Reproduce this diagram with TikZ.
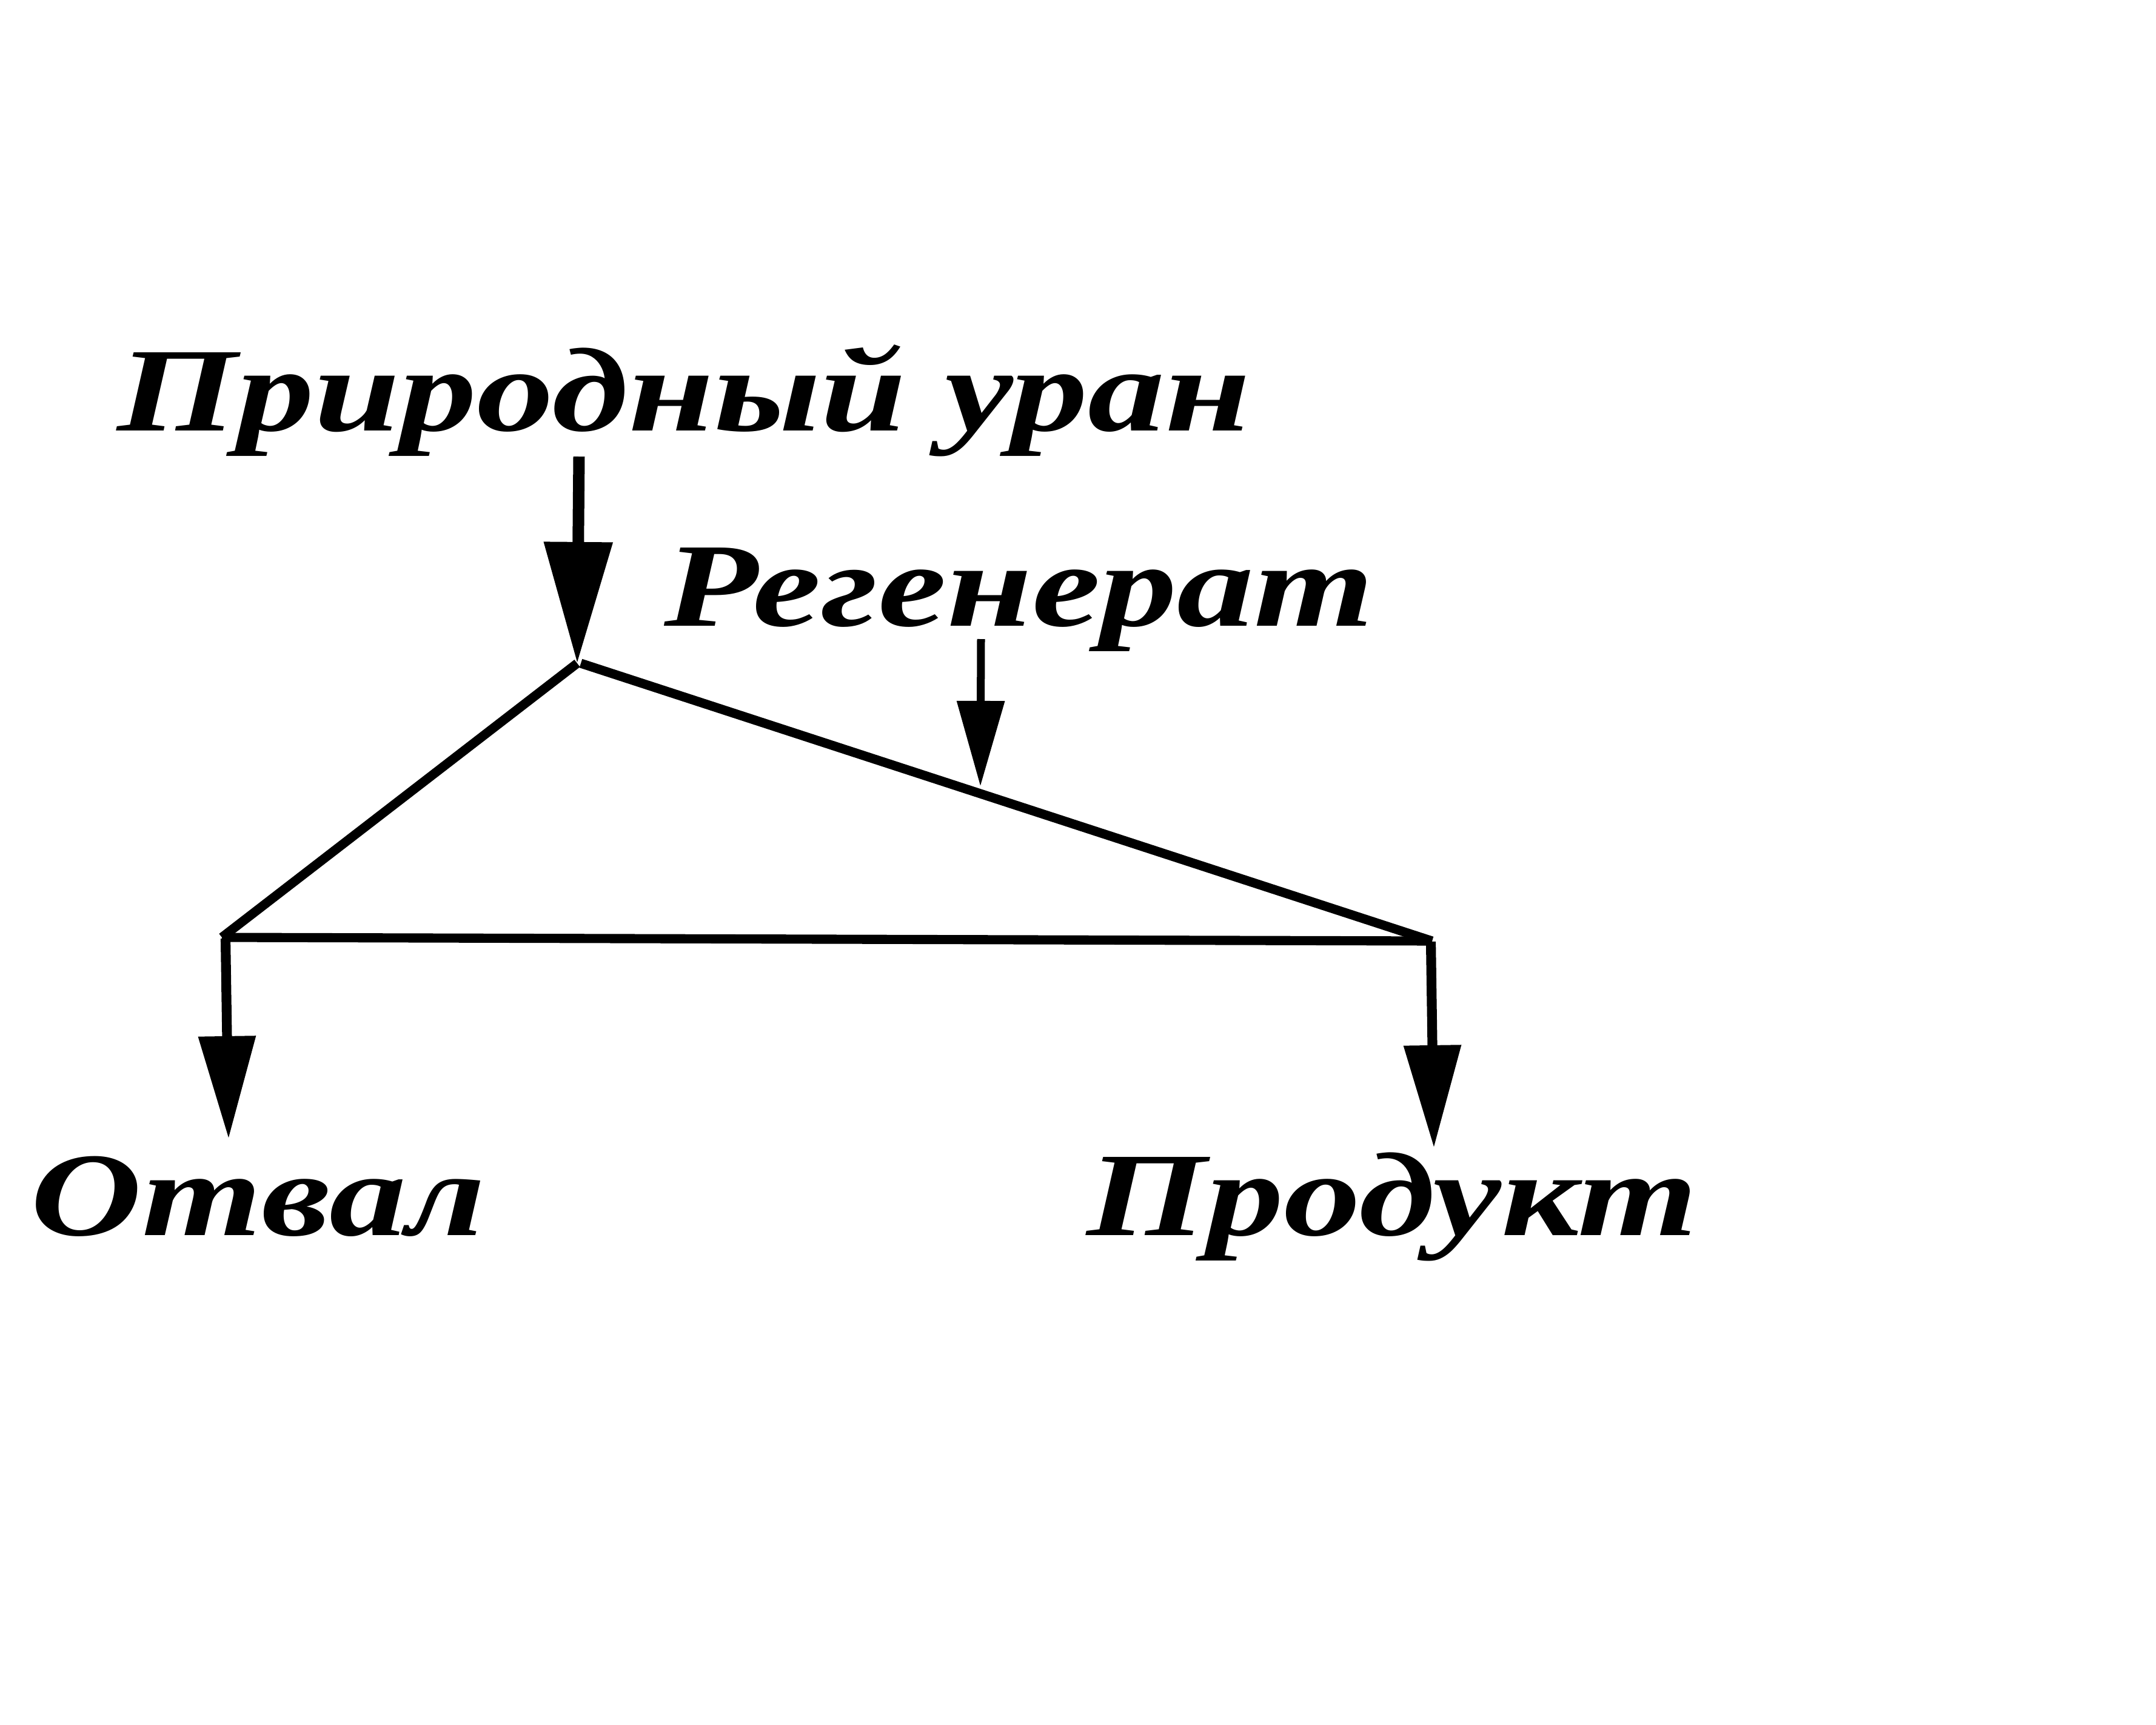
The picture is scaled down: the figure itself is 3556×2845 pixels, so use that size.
\documentclass[tikz,border=0pt]{standalone}
\usepackage{fontspec}
\setmainfont{Liberation Serif}[FakeStretch=1.29]
\usetikzlibrary{arrows.meta,calc,positioning}

\begin{document}
\begin{tikzpicture}[
  x=0.01cm, y=-0.01cm,
  lbl/.style={anchor=base west, inner sep=0pt, font=\fontsize{56}{60}\selectfont\bfseries\itshape},
  edge/.style={line width=4.3pt, line cap=butt},
  feed/.style={line width=5.4pt, -{Triangle[length=2.0cm, width=1.09cm]}},
  side/.style={line width=4.6pt, -{Triangle[length=1.69cm, width=0.91cm]}},
  recyc/.style={line width=3.7pt, -{Triangle[length=1.41cm, width=0.76cm]}}
]
\useasboundingbox (0,0) rectangle (3556,2845);

% labels
\node[lbl] (uran) at (193,710) {Природный уран};
\node[lbl] (regen) at (1095,1032) {Регенерат};
\node[lbl] (otval) at (50,2037) {Отвал};
\node[lbl] (prod) at (1792,2037) {Продукт};

% cascade points
\coordinate (feedtop) at (955,753);
\coordinate (apex) at (952,1094);
\coordinate (lcorner) at (366,1546);
\coordinate (rcorner) at (2362,1552);
\coordinate (regtop) at (1618,1054);
\coordinate (regtip) at (1617,1297);
\coordinate (ltop) at (372,1548);
\coordinate (ltip) at (377,1878);
\coordinate (rtop) at (2360,1553);
\coordinate (rtip) at (2365,1893);

% triangle
\draw[edge] (apex) -- (lcorner);
\draw[edge] ($(apex)+(6,0)$) -- (rcorner);
\draw[edge] (lcorner) -- (rcorner);

% flows
\draw[feed] (feedtop) -- (apex);
\draw[recyc] (regtop) -- (regtip);
\draw[side] (ltop) -- (ltip);
\draw[side] (rtop) -- (rtip);

\end{tikzpicture}
\end{document}
